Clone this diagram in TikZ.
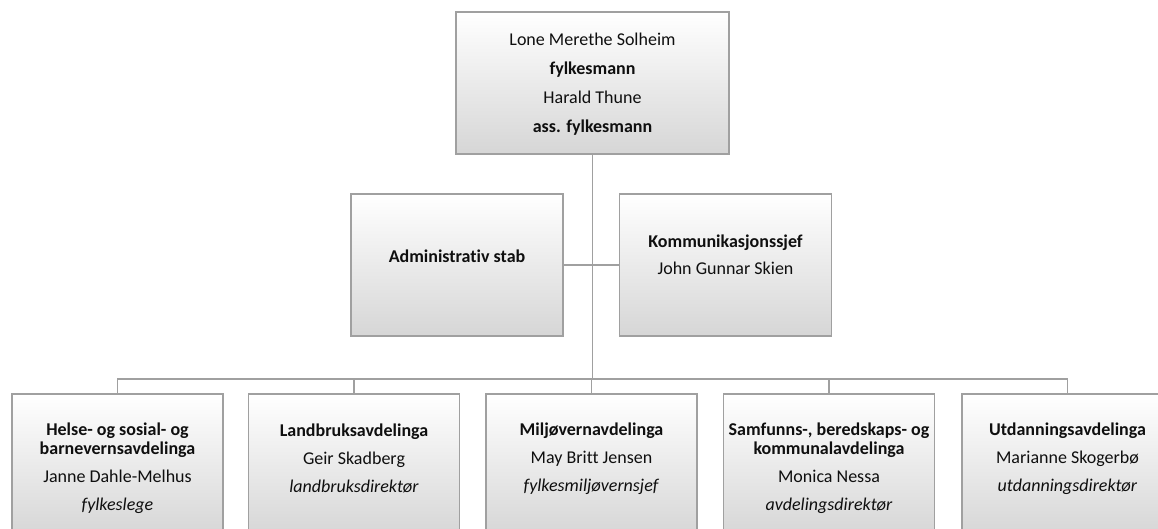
\documentclass[tikz,border=0pt]{standalone}
\usepackage{fontspec}
\setmainfont[Ligatures=NoCommon]{Carlito}
\definecolor{linegray}{RGB}{160,160,160}
\definecolor{fillbot}{RGB}{214,214,214}
\definecolor{txt}{RGB}{15,15,15}
\begin{document}
\begin{tikzpicture}[x=1pt,y=-1pt,
  box/.style={draw=linegray, line width=1.3pt, top color=white, bottom color=fillbot, minimum height=142pt, inner sep=0pt},
  topbox/.style={box, minimum width=273pt},
  midbox/.style={box, minimum width=212pt},
  botbox/.style={box, minimum width=211pt},
  txtnode/.style={align=center, text=txt, font=\fontsize{18}{19}\selectfont, inner sep=0pt},
  conn/.style={draw=linegray, line width=1.3pt}
]
\useasboundingbox (0,0) rectangle (1158,528);
\clip (0,0) rectangle (1158,528);

% boxes
\node[topbox] (top) at (592.5,83) {};
\node[midbox] (admin) at (457,265) {};
\node[midbox] (komm) at (725.5,265) {};
\node[botbox] (b1) at (117.5,465) {};
\node[botbox] (b2) at (354,465) {};
\node[botbox] (b3) at (591.5,465) {};
\node[botbox] (b4) at (829,465) {};
\node[botbox] (b5) at (1067.5,465) {};

% junctions
\coordinate (j) at (592.5,379);

% connectors
\draw[conn] (top.south) -- (j);
\draw[conn] (admin.east) -- (komm.west);
\draw[conn] (b1.north) |- (b5.north |- j) -- (b5.north);
\draw[conn] (b2.north) -- (b2.north |- j);
\draw[conn] (b3.north) -- (b3.north |- j);
\draw[conn] (b4.north) -- (b4.north |- j);

% texts
\node[txtnode] (ttop) at (592.5,84) {Lone Merethe Solheim\\[10pt]\textbf{fylkesmann}\\[10pt]Harald Thune\\[10pt]\textbf{ass. fylkesmann}};
\node[txtnode] (tadmin) at (457,256) {\textbf{Administrativ stab}};
\node[txtnode] (tkomm) at (725.5,255) {\textbf{Kommunikasjonssjef}\\[8pt]John Gunnar Skien};
\node[txtnode] (t1) at (117.5,468) {\textbf{Helse- og sosial- og}\\\textbf{barnevernsavdelinga}\\[9pt]Janne Dahle-Melhus\\[9pt]\textit{fylkeslege}};
\node[txtnode] (t2) at (354,458.5) {\textbf{Landbruksavdelinga}\\[9pt]Geir Skadberg\\[9pt]\textit{landbruksdirektør}};
\node[txtnode] (t3) at (591.5,458.5) {\textbf{Miljøvernavdelinga}\\[9pt]May Britt Jensen\\[9pt]\textit{fylkesmiljøvernsjef}};
\node[txtnode] (t4) at (829,468.5) {\textbf{Samfunns-, beredskaps- og}\\\textbf{kommunalavdelinga}\\[9pt]Monica Nessa\\[9pt]\textit{avdelingsdirektør}};
\node[txtnode] (t5) at (1067.5,458.5) {\textbf{Utdanningsavdelinga}\\[9pt]Marianne Skogerbø\\[9pt]\textit{utdanningsdirektør}};
\end{tikzpicture}
\end{document}
